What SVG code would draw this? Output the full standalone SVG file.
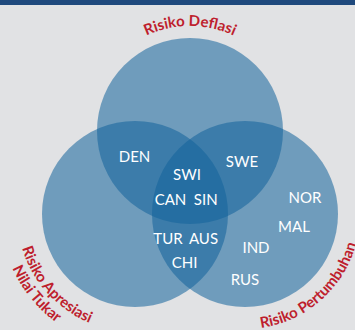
<svg xmlns="http://www.w3.org/2000/svg" width="355" height="330" viewBox="0 0 355 330">
<style>
.set{fill:#12639A;fill-opacity:0.55}
.lbl{font-family:Lato,"Liberation Sans",sans-serif;font-size:15px;fill:#FFFFFF;text-anchor:middle}
.risk{font-family:Lato,"Liberation Sans",sans-serif;font-size:15px;font-weight:bold;fill:#BE1E2D;text-anchor:middle}
</style>
<defs>
<path id="arcTop" d="M91.33,95.09 A105,105 0 0 1 288.67,95.09"/>
<path id="arcRight" d="M190.12,315.06 A115,115 0 0 0 352,171.85"/>
<path id="arcLeft1" d="M22.77,177.54 A118,118 0 0 0 159.53,329.42"/>
<path id="arcLeft2" d="M9.9,165.97 A134,134 0 0 0 155.96,346.35"/>
</defs>
<rect x="0" y="0" width="355" height="330" fill="#E1E2E4"/>
<rect x="0" y="0" width="355" height="5" fill="#1F497D"/>
<g id="set-deflasi">
<circle class="set" cx="190" cy="131" r="93"/>
<text class="risk"><textPath href="#arcTop" startOffset="50%">Risiko Deflasi</textPath></text>
</g>
<g id="set-apresiasi">
<circle class="set" cx="135" cy="214" r="93"/>
<text class="risk"><textPath href="#arcLeft1" startOffset="50%">Risiko Apresiasi</textPath></text>
<text class="risk"><textPath href="#arcLeft2" startOffset="50%">Nilai Tukar</textPath></text>
</g>
<g id="set-pertumbuhan">
<circle class="set" cx="245" cy="214" r="93"/>
<text class="risk"><textPath href="#arcRight" startOffset="50%">Risiko Pertumbuhan</textPath></text>
</g>
<g id="countries">
<text class="lbl" x="134.5" y="162">DEN</text>
<text class="lbl" x="242" y="167">SWE</text>
<text class="lbl" x="187" y="179.5">SWI</text>
<text class="lbl" x="170.5" y="205">CAN</text>
<text class="lbl" x="205.7" y="205">SIN</text>
<text class="lbl" x="168" y="244">TUR</text>
<text class="lbl" x="203.5" y="244">AUS</text>
<text class="lbl" x="184.5" y="267.5">CHI</text>
<text class="lbl" x="305" y="203">NOR</text>
<text class="lbl" x="294" y="232">MAL</text>
<text class="lbl" x="256" y="252.5">IND</text>
<text class="lbl" x="245" y="285">RUS</text>
</g>
</svg>
